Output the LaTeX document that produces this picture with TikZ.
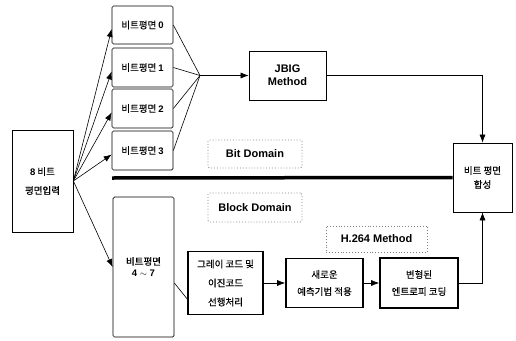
\documentclass[tikz,border=0pt]{standalone}
\usepackage{fontspec}
\setmainfont{Liberation Sans}
\newfontfamily\kr[FakeBold=0.4]{Noto Sans CJK KR}
\usetikzlibrary{arrows.meta}

\tikzset{
  box/.style={draw, line width=0.7pt, align=center, inner sep=1pt,
    font=\kr\fontsize{9.5}{14}\selectfont},
  planebox/.style={box, rounded corners=1.5pt, minimum width=61pt},
  stagebox/.style={box, line width=1.6pt},
  domainbox/.style={draw=gray, dotted, line width=0.9pt, rounded corners=1.5pt,
    font=\bfseries\fontsize{11}{13}\selectfont},
  link/.style={line width=0.6pt},
}

\begin{document}
\begin{tikzpicture}[x=1pt, y=-1pt, >={Latex[length=8pt,width=6pt]}]
            \useasboundingbox (0,0) rectangle (516,340);

            % input and bit planes
            \node[box, font=\kr\fontsize{9.5}{19}\selectfont,
                  minimum width=61pt, minimum height=102pt] (input) at (42.5,181)
                {{\normalfont\bfseries 8} 비트\\평면입력};
            \coordinate (join) at (200,75.5);

            \foreach \i/\y/\h in {0/25/38, 1/67.5/39, 2/108.5/39, 3/150.5/39} {
                \node[planebox, minimum height=\h pt] (plane\i) at (142.5,\y)
                    {비트평면 {\normalfont\bfseries \i}};
                \draw[link, ->] (input.east) -- ([yshift=-4pt]plane\i.west);
                \draw[link] (plane\i.east) -- (join);
            }

            \node[planebox, font=\kr\fontsize{9.5}{12}\selectfont,
                  minimum height=140pt] (plane47) at (143.5,267)
                {비트평면\\{\normalfont\bfseries 4 $\sim$ 7}};
            \draw[link, ->] (input.east) -- (plane47.west);

            % bit domain
            \node[box, font=\bfseries\fontsize{11}{13}\selectfont,
                  minimum width=77pt, minimum height=49pt] (jbig) at (287.5,75.5) {JBIG\\Method};
            \draw[link, ->] (join) -- (jbig.west);

            \node[box, minimum width=59pt, minimum height=69pt] (merge) at (482.5,177.5)
                {비트 평면\\합성};
            \draw[link, ->] (jbig.east) -| (merge.north);

            \node[domainbox, minimum width=94pt, minimum height=28pt] (bitdom) at (255,154) {Bit Domain};
            \coordinate (split) at (112,178);
            \draw[line width=3.5pt] (split) -- (merge.west);
            \node[domainbox, minimum width=94pt, minimum height=29pt] (blockdom) at (255,207.5) {Block Domain};

            % block domain
            \node[domainbox, rounded corners=0pt, minimum width=101pt, minimum height=26pt] (h264) at (376.5,239) {H.264 Method};

            \node[stagebox, font=\kr\fontsize{9.5}{19}\selectfont,
                  minimum width=75pt, minimum height=63pt] (gray) at (225.5,283)
                {그레이 코드 및\\이진코드\\선행처리};
            \node[stagebox, font=\kr\fontsize{9.5}{17}\selectfont,
                  minimum width=77pt, minimum height=49pt] (predict) at (324.5,283)
                {새로운\\예측기법 적용};
            \node[stagebox, font=\kr\fontsize{9.5}{17}\selectfont,
                  minimum width=78pt, minimum height=50pt] (entropy) at (419,283)
                {변형된\\엔트로피 코딩};

            \draw[link] ([yshift=-16pt]plane47.east) -- ([yshift=-16pt]gray.west);
            \draw[link, ->] (gray.east) -- (predict.west);
            \draw[link, ->] (predict.east) -- (entropy.west);
            \draw[link, ->] (entropy.east) -| (merge.south);
\end{tikzpicture}
\end{document}
